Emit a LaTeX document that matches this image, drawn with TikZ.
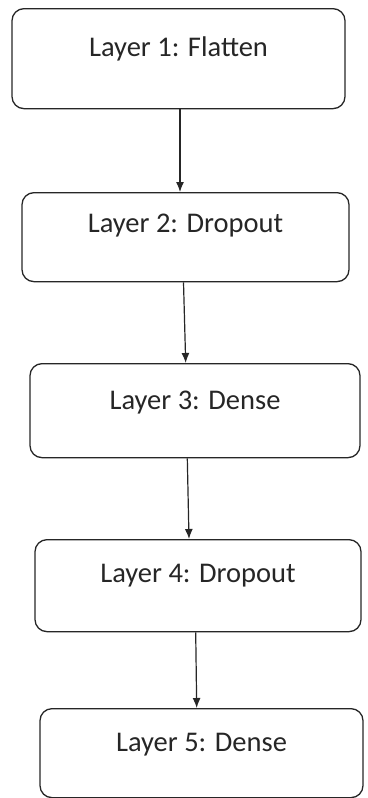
\documentclass[tikz,border=0pt]{standalone}
\usepackage{fontspec}
\setmainfont{Carlito}
\usepackage{tikz}
\usetikzlibrary{arrows.meta}

\tikzset{
  layer/.style={draw=black!85,line width=1.3pt,rounded corners=12pt,inner ysep=0pt,anchor=north,text=black!85,font=\fontsize{28.5}{32}\selectfont},
  flow/.style={-{Latex[length=10pt,width=8pt]},line width=1.2pt,black!85}
}

\begin{document}
\begin{tikzpicture}[x=1pt,y=-1pt]
\useasboundingbox (0,0) rectangle (367,798);
% layers
\node[layer,minimum width=333pt,text height=47.7pt,text depth=52.3pt] (l1) at (178.5,8) {Layer 1: Flatten};
\node[layer,minimum width=327pt,text height=40pt,text depth=49pt] (l2) at (185.5,192) {Layer 2: Dropout};
\node[layer,minimum width=330pt,text height=46pt,text depth=48pt] (l3) at (195,363) {Layer 3: Dense};
\node[layer,minimum width=326pt,text height=43pt,text depth=49pt] (l4) at (198,539) {Layer 4: Dropout};
\node[layer,minimum width=323pt,text height=43pt,text depth=46pt] (l5) at (201.5,708) {Layer 5: Dense};

% arrows between layers
\draw[flow] ([xshift=1.5pt]l1.south) -- ([xshift=-5.5pt]l2.north);
\draw[flow] ([xshift=-2pt]l2.south) -- ([xshift=-9.3pt]l3.north);
\draw[flow] ([xshift=-7.7pt]l3.south) -- ([xshift=-9pt]l4.north);
\draw[flow] ([xshift=-2.3pt]l4.south) -- ([xshift=-4.8pt]l5.north);
\end{tikzpicture}
\end{document}
